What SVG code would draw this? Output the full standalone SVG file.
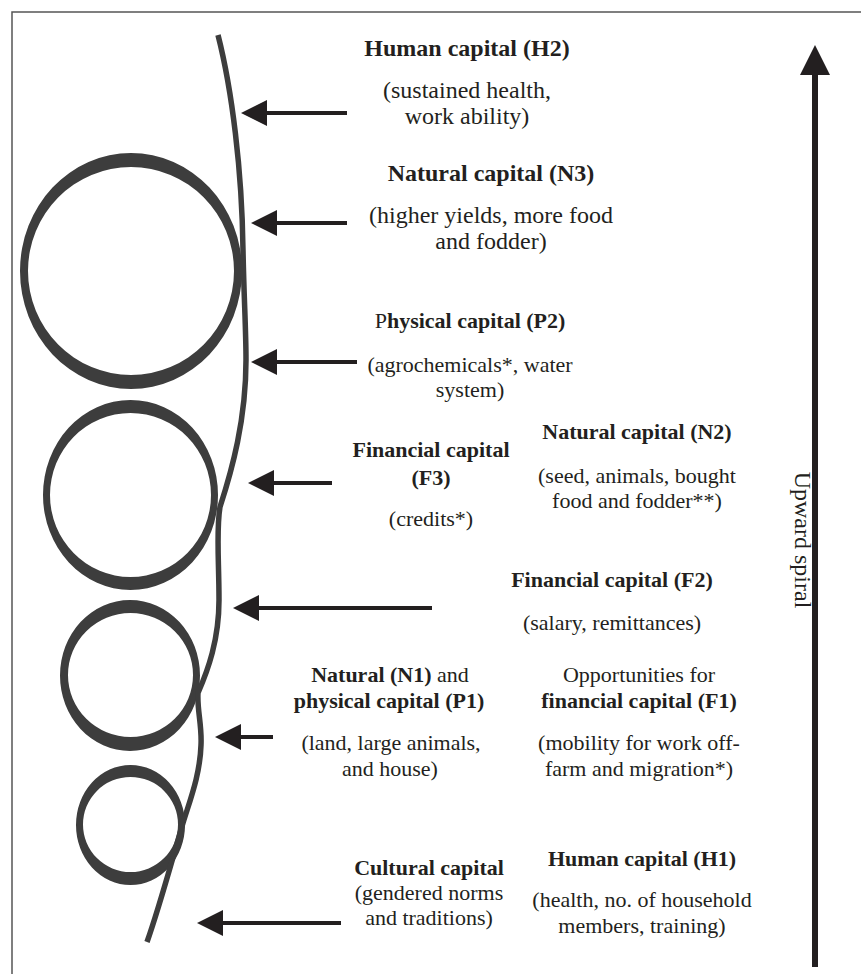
<svg xmlns="http://www.w3.org/2000/svg" width="861" height="974" viewBox="0 0 861 974">
<style>
text{font-family:"Liberation Serif","Times New Roman",serif;fill:#231f20;text-anchor:middle;font-size:22px}
.big{font-size:24px}
.b{font-weight:bold}
.n{font-weight:normal}
.ring{fill:#3d3d3d;fill-rule:evenodd}
.strand{fill:none;stroke:#3d3d3d;stroke-width:5.5}
.arr{stroke:#231f20;stroke-width:4;fill:none}
.frame{stroke:#555;stroke-width:1.5;fill:none}
</style>
<defs>
<marker id="head" viewBox="0 0 26 26" markerWidth="26" markerHeight="26" markerUnits="userSpaceOnUse" refX="10" refY="13" orient="auto"><path d="M0,0 L26,13 L0,26 Z" fill="#231f20"/></marker>
<marker id="headBig" viewBox="0 0 30 30" markerWidth="30" markerHeight="30" markerUnits="userSpaceOnUse" refX="10" refY="15" orient="auto"><path d="M0,0 L30,15 L0,30 Z" fill="#231f20"/></marker>
</defs>
<rect width="861" height="974" fill="#fff"/>
<path class="frame" d="M12,974 L12,12 L861,12"/>
<g id="spiral">
<path class="ring" d="M20,271 a111,118 0 1,0 222,0 a111,118 0 1,0 -222,0Z M28,271 a103,104 0 1,0 206,0 a103,104 0 1,0 -206,0Z"/>
<path class="ring" d="M43,495 a87.5,95 0 1,0 175,0 a87.5,95 0 1,0 -175,0Z M50,495 a80.5,82 0 1,0 161,0 a80.5,82 0 1,0 -161,0Z"/>
<path class="ring" d="M60,675.5 a70,75.5 0 1,0 140,0 a70,75.5 0 1,0 -140,0Z M68,675 a62.5,62 0 1,0 125,0 a62.5,62 0 1,0 -125,0Z"/>
<path class="ring" d="M76,825 a54.5,60 0 1,0 109,0 a54.5,60 0 1,0 -109,0Z M83,824.5 a47.5,47.5 0 1,0 95,0 a47.5,47.5 0 1,0 -95,0Z"/>
<path class="strand" d="M218,35 C232,90 242,170 243,250 C244,300 246,330 246,360 C246,420 232,470 220,507 C216,530 219,560 219,600 C219,640 208,670 198,693 C197,710 202,725 201,745 C200,775 190,800 183,823 C172,860 160,905 147,942"/>
</g>
<g id="connectors">
<line class="arr" x1="347" y1="113" x2="257" y2="113" marker-end="url(#head)"/>
<line class="arr" x1="347" y1="223" x2="267" y2="223" marker-end="url(#head)"/>
<line class="arr" x1="357" y1="362" x2="267" y2="362" marker-end="url(#head)"/>
<line class="arr" x1="332" y1="483" x2="264" y2="483" marker-end="url(#head)"/>
<line class="arr" x1="432" y1="608" x2="249" y2="608" marker-end="url(#head)"/>
<line class="arr" x1="273" y1="737" x2="231" y2="737" marker-end="url(#head)"/>
<line class="arr" x1="341" y1="923" x2="213" y2="923" marker-end="url(#head)"/>
<line x1="815" y1="967" x2="815" y2="65" stroke="#231f20" stroke-width="6" marker-end="url(#headBig)"/>
</g>
<g id="h2">
<text class="big b" x="467" y="56">Human capital (H2)</text>
<text class="big" x="467" y="98">(sustained health,</text>
<text class="big" x="467" y="124">work ability)</text>
</g>
<g id="n3">
<text class="big b" x="491" y="181">Natural capital (N3)</text>
<text class="big" x="491" y="223">(higher yields, more food</text>
<text class="big" x="491" y="249">and fodder)</text>
</g>
<g id="p2">
<text x="470" y="328"><tspan class="n">P</tspan><tspan class="b">hysical capital (P2)</tspan></text>
<text x="470" y="372">(agrochemicals*, water</text>
<text x="470" y="397">system)</text>
</g>
<g id="f3">
<text class="b" x="431" y="457">Financial capital</text>
<text class="b" x="431" y="485">(F3)</text>
<text x="431" y="526">(credits*)</text>
</g>
<g id="n2">
<text class="b" x="637" y="439">Natural capital (N2)</text>
<text x="637" y="483">(seed, animals, bought</text>
<text x="637" y="508">food and fodder**)</text>
</g>
<g id="f2">
<text class="b" x="612" y="587">Financial capital (F2)</text>
<text x="612" y="630">(salary, remittances)</text>
</g>
<g id="n1p1">
<text x="390" y="682"><tspan class="b">Natural (N1)</tspan> and</text>
<text class="b" x="389" y="708">physical capital (P1)</text>
<text x="391" y="750">(land, large animals,</text>
<text x="390" y="776">and house)</text>
</g>
<g id="f1">
<text x="639" y="682">Opportunities for</text>
<text class="b" x="639" y="708">financial capital (F1)</text>
<text x="639" y="750">(mobility for work off-</text>
<text x="639" y="776">farm and migration*)</text>
</g>
<g id="cultural">
<text class="b" x="429" y="875">Cultural capital</text>
<text x="429" y="900">(gendered norms</text>
<text x="429" y="925">and traditions)</text>
</g>
<g id="h1">
<text class="b" x="642" y="866">Human capital (H1)</text>
<text x="642" y="907">(health, no. of household</text>
<text x="642" y="933">members, training)</text>
</g>
<g id="upward">
<text class="big" transform="translate(795,540) rotate(90)">Upward spiral</text>
</g>
</svg>
